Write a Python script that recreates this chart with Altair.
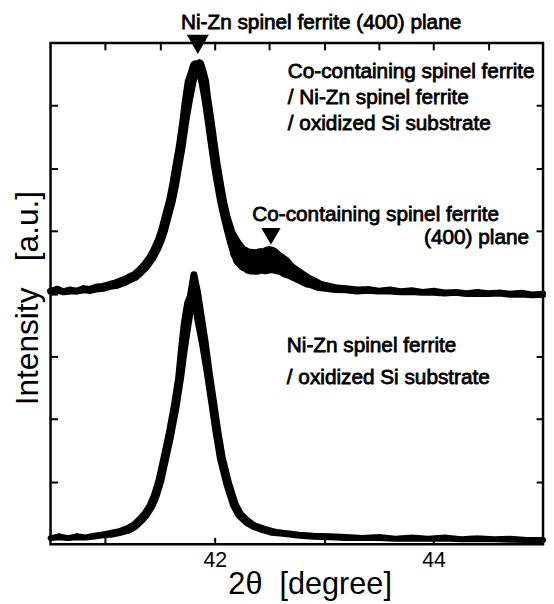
import altair as alt
import pandas as pd

FONT = "Liberation Sans"
NB = "\u00a0"

# upper pattern: Co-containing / Ni-Zn / oxidized Si  (center, band thickness in px)
top_x = [40.50, 40.56, 40.62, 40.68, 40.74, 40.80, 40.86, 40.92, 40.98, 41.04,
         41.10, 41.16, 41.22, 41.27, 41.32, 41.37, 41.42, 41.46, 41.50, 41.53,
         41.56, 41.60, 41.63, 41.66, 41.69, 41.72, 41.75, 41.78, 41.80, 41.82,
         41.84, 41.86, 41.88, 41.90, 41.92, 41.95, 41.98, 42.01, 42.04, 42.07,
         42.10, 42.14, 42.18, 42.22, 42.26, 42.30, 42.34, 42.38, 42.42, 42.46,
         42.50, 42.54, 42.58, 42.62, 42.66, 42.70, 42.75, 42.80, 42.85, 42.90,
         42.95, 43.00, 43.10, 43.20, 43.30, 43.40, 43.50, 43.60, 43.70, 43.80,
         43.90, 44.00, 44.10, 44.20, 44.30, 44.40, 44.50, 44.60, 44.70, 44.80,
         44.90, 45.00]
top_y = [4.04, 4.06, 4.03, 4.05, 4.04, 4.07, 4.06, 4.09, 4.10, 4.13,
         4.15, 4.19, 4.24, 4.28, 4.36, 4.45, 4.57, 4.70, 4.86, 5.02,
         5.22, 5.48, 5.74, 6.05, 6.35, 6.72, 7.08, 7.38, 7.50, 7.64,
         7.60, 7.66, 7.52, 7.38, 7.15, 6.80, 6.42, 6.05, 5.74, 5.45,
         5.22, 4.97, 4.80, 4.66, 4.58, 4.53, 4.51, 4.49, 4.52, 4.50,
         4.55, 4.51, 4.48, 4.45, 4.39, 4.35, 4.30, 4.25, 4.20, 4.17,
         4.13, 4.11, 4.08, 4.07, 4.05, 4.06, 4.04, 4.05, 4.03, 4.04,
         4.02, 4.03, 4.01, 4.02, 4.00, 4.01, 4.00, 4.01, 3.99, 4.00,
         3.98, 3.99]
top_w = [7, 8, 7, 8, 7, 8, 8, 9, 9, 9,
         10, 10, 10, 10, 10, 10, 10, 10, 10, 10,
         10, 10, 10, 10, 10, 10, 11, 12, 11, 10,
         12, 10, 11, 11, 10, 10, 10, 10, 10, 10,
         10, 11, 14, 18, 22, 24, 26, 24, 26, 24,
         26, 24, 22, 20, 18, 16, 15, 14, 13, 12,
         11, 10, 9, 8, 8, 8, 7, 8, 7, 8,
         7, 8, 7, 7, 7, 8, 7, 7, 7, 8,
         7, 7]

# lower pattern: Ni-Zn / oxidized Si
bot_x = [40.50, 40.58, 40.66, 40.74, 40.82, 40.90, 40.98, 41.06, 41.14, 41.21,
         41.27, 41.33, 41.37, 41.42, 41.46, 41.50, 41.53, 41.56, 41.59, 41.64,
         41.68, 41.71, 41.74, 41.77, 41.79, 41.81, 41.83, 41.86, 41.90, 41.94,
         41.98, 42.02, 42.06, 42.12, 42.18, 42.23, 42.29, 42.36, 42.44, 42.52,
         42.60, 42.70, 42.80, 42.90, 43.05, 43.20, 43.35, 43.50, 43.65, 43.80,
         43.95, 44.10, 44.25, 44.40, 44.55, 44.70, 44.85, 45.00]
bot_y = [0.10, 0.12, 0.10, 0.12, 0.11, 0.13, 0.15, 0.17, 0.20, 0.24,
         0.30, 0.40, 0.48, 0.62, 0.79, 1.02, 1.26, 1.50, 1.74, 2.21,
         2.66, 3.12, 3.52, 3.84, 3.95, 4.30, 4.02, 3.62, 3.22, 2.75,
         2.28, 1.80, 1.38, 0.96, 0.63, 0.47, 0.37, 0.29, 0.24, 0.20,
         0.18, 0.16, 0.14, 0.13, 0.12, 0.11, 0.10, 0.11, 0.09, 0.10,
         0.09, 0.10, 0.08, 0.09, 0.08, 0.08, 0.07, 0.07]
bot_w = [6, 7, 6, 7, 6, 7, 7, 8, 8, 9,
         9, 9, 9, 9, 9, 9, 9, 9, 9, 9,
         9, 10, 11, 11, 10, 7, 10, 11, 10, 9,
         9, 9, 9, 9, 9, 9, 9, 8, 8, 8,
         7, 7, 7, 7, 7, 7, 6, 7, 6, 7,
         6, 7, 6, 7, 6, 7, 6, 6]

x_ticks = [41, 41.5, 42, 42.5, 43, 43.5, 44, 44.5]
y_ticks = [1, 2, 3, 4, 5, 6, 7]

left_texts = ["Ni-Zn spinel ferrite (400) plane",
              "Co-containing spinel ferrite",
              "/ Ni-Zn spinel ferrite",
              "/ oxidized Si substrate",
              "Co-containing spinel ferrite",
              "Ni-Zn spinel ferrite",
              "/ oxidized Si substrate"]
left_x = [41.692, 42.668, 42.668, 42.668, 42.343, 42.659, 42.659]
left_y = [8.22, 7.448, 7.029, 6.611, 5.160, 3.061, 2.556]

right_texts = ["(400) plane"]
right_x = [44.872]
right_y = [4.797]

marker_x = [41.846, 42.514]
marker_y = [7.976, 4.915]
marker_s = [500, 380]

df_top = pd.DataFrame({"x": top_x, "y": top_y, "w": top_w})
df_bot = pd.DataFrame({"x": bot_x, "y": bot_y, "w": bot_w})
df_lt = pd.DataFrame({"x": left_x, "y": left_y, "t": left_texts})
df_rt = pd.DataFrame({"x": right_x, "y": right_y, "t": right_texts})
df_m = pd.DataFrame({"x": marker_x, "y": marker_y, "s": marker_s})

xs = alt.Scale(domain=[40.5, 45.0], nice=False, zero=False)
ys = alt.Scale(domain=[0, 8], nice=False, zero=False)

common_tick = dict(tickSize=7, tickWidth=2, tickColor="black", offset=-7,
                   domain=False, grid=False)

ax_bottom = alt.Axis(orient="bottom", values=x_ticks, **common_tick, format="d",
                     labelExpr="(datum.value == 42 || datum.value == 44) ? datum.label : ''",
                     labelFont=FONT, labelFontSize=21.5, labelColor="black",
                     labelPadding=5, labelFlush=False, labelOverlap=False,
                     title="2θ" + NB + NB + "[degree]", titleFont=FONT, titleFontSize=31,
                     titleFontWeight="normal", titleColor="black",
                     titleX=262, titleY=57, titleAlign="center",
                     titleBaseline="alphabetic")
ax_left = alt.Axis(orient="left", values=y_ticks, **common_tick, labels=False,
                   title="Intensity" + NB + NB + NB + "[a.u.]", titleFont=FONT,
                   titleFontSize=32, titleFontWeight="normal", titleColor="black",
                   titleX=-30, titleY=257.5, titleAngle=270,
                   titleAlign="center", titleBaseline="middle")
ax_top = alt.Axis(orient="top", values=x_ticks, **common_tick, labels=False, title="")
ax_right = alt.Axis(orient="right", values=y_ticks, **common_tick, labels=False, title="")


def enc_xy():
    return dict(x=alt.X("x:Q", scale=xs, axis=ax_bottom),
                y=alt.Y("y:Q", scale=ys, axis=ax_left))


top_curve = alt.Chart(df_top).mark_trail(color="black").encode(
    **enc_xy(), size=alt.Size("w:Q", scale=None, legend=None))
bot_curve = alt.Chart(df_bot).mark_trail(color="black").encode(
    **enc_xy(), size=alt.Size("w:Q", scale=None, legend=None))

txt_style = dict(font=FONT, fontSize=21, color="black", stroke="black",
                 strokeWidth=0.8, baseline="alphabetic")
lt = alt.Chart(df_lt).mark_text(align="left", **txt_style).encode(**enc_xy(), text="t:N")
rt = alt.Chart(df_rt).mark_text(align="right", **txt_style).encode(**enc_xy(), text="t:N")

inner = alt.layer(top_curve, bot_curve, lt, rt)

markers = alt.Chart(df_m).mark_point(shape="triangle-down", filled=True,
                                     color="black", opacity=1).encode(
    x=alt.X("x:Q", scale=xs, axis=ax_top),
    y=alt.Y("y:Q", scale=ys, axis=ax_right),
    size=alt.Size("s:Q", scale=None, legend=None))

chart = alt.layer(inner, markers).resolve_axis(
    x="independent", y="independent"
).properties(
    width=498, height=507,
    autosize=alt.AutoSizeParams(type="none"),
    padding={"left": 43, "top": 32, "right": 3, "bottom": 57},
    background="white",
).configure_view(stroke="black", strokeWidth=2.5)

chart.save("out.html", embed_options={"renderer": "svg", "actions": False})
